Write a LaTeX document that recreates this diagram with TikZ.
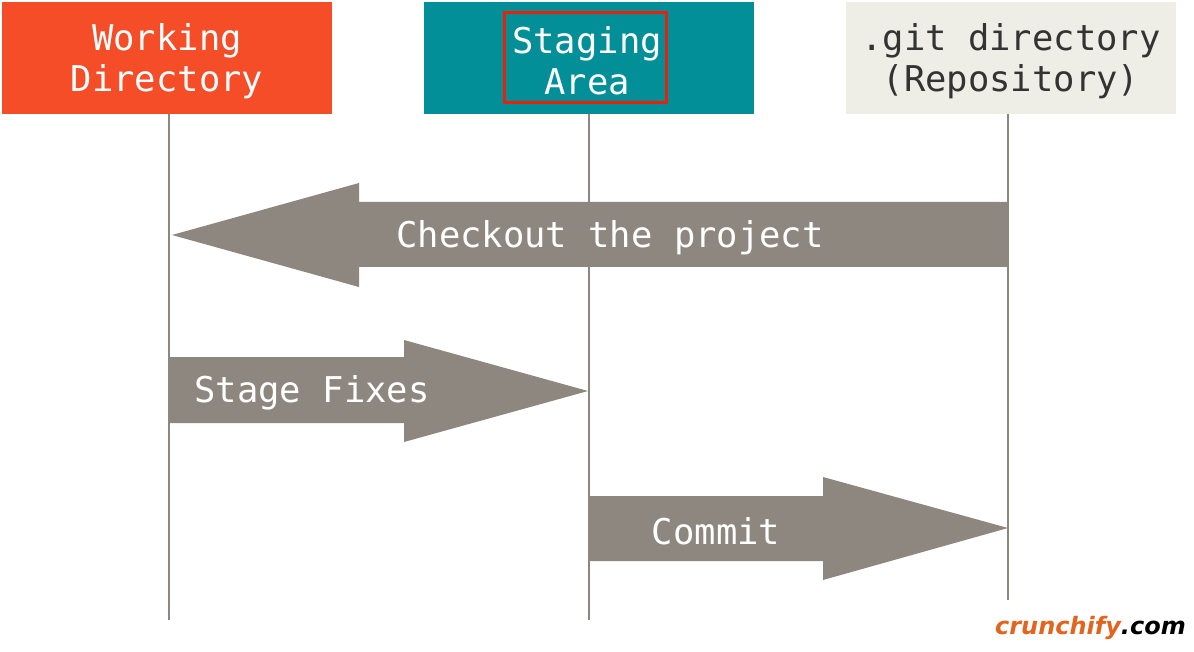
\documentclass[tikz,border=0pt]{standalone}
\usepackage{fontspec}
\setmonofont{DejaVu Sans Mono}
\setsansfont{DejaVu Sans}
\begin{document}
\begin{tikzpicture}[x=1pt,y=-1pt,
  lbl/.style={font=\ttfamily\fontsize{35.5}{41}\selectfont,align=center,text=white},
  hdr/.style={minimum width=330pt,minimum height=112pt,inner sep=0pt},
  life/.style={draw=gr,line width=2.5pt},
  arr/.style={fill=gr}]
\definecolor{gr}{HTML}{8E877F}
\definecolor{wd}{HTML}{F44D27}
\definecolor{sa}{HTML}{028F98}
\definecolor{gd}{HTML}{EFEEE6}
\definecolor{cr}{HTML}{E2641E}
\definecolor{rb}{HTML}{E8200C}
\useasboundingbox (0,0) rectangle (1194,652);
\node[hdr,fill=wd] (wd) at (167,58) {};
\node[lbl] (wdl) at (167,61) {Working\\Directory};
\node[hdr,fill=sa] (sa) at (589,58) {};
\node[draw=rb,line width=3pt,minimum width=162pt,minimum height=90pt,inner sep=0pt] (sal) at (585,58) {};
\node[lbl] (sat) at (587,61) {Staging\\Area};
\node[hdr,fill=gd] (gd) at (1011,58) {};
\node[lbl,text=black!80] (gdl) at (1011,61) {.git directory\\(Repository)};
\coordinate (wde) at (169,620);
\coordinate (sae) at (589,620);
\coordinate (gde) at (1008,600);
\draw[life] (wd.south -| wde) -- (wde);
\draw[life] (sa.south) -- (sae);
\draw[life] (gd.south -| gde) -- (gde);
\fill[arr] (1008,202) -- (359,202) -- (359,183) -- (172,235) -- (359,287) -- (359,267) -- (1008,267) -- cycle;
\node[lbl] (co) at (610,238) {Checkout the project};
\fill[arr] (168,357) -- (404,357) -- (404,340) -- (588,391) -- (404,442) -- (404,423) -- (168,423) -- cycle;
\node[lbl] (sf) at (312,393) {Stage Fixes};
\fill[arr] (589,496) -- (823,496) -- (823,477) -- (1008,528) -- (823,580) -- (823,561) -- (589,561) -- cycle;
\node[lbl] (cm) at (716,531) {Commit};
\node[anchor=east,inner sep=0pt] (logo) at (1186,628) {\fontsize{24}{28}\selectfont\itshape\bfseries\color{cr}\sffamily crunchify\color{black}.com};
\end{tikzpicture}
\end{document}
